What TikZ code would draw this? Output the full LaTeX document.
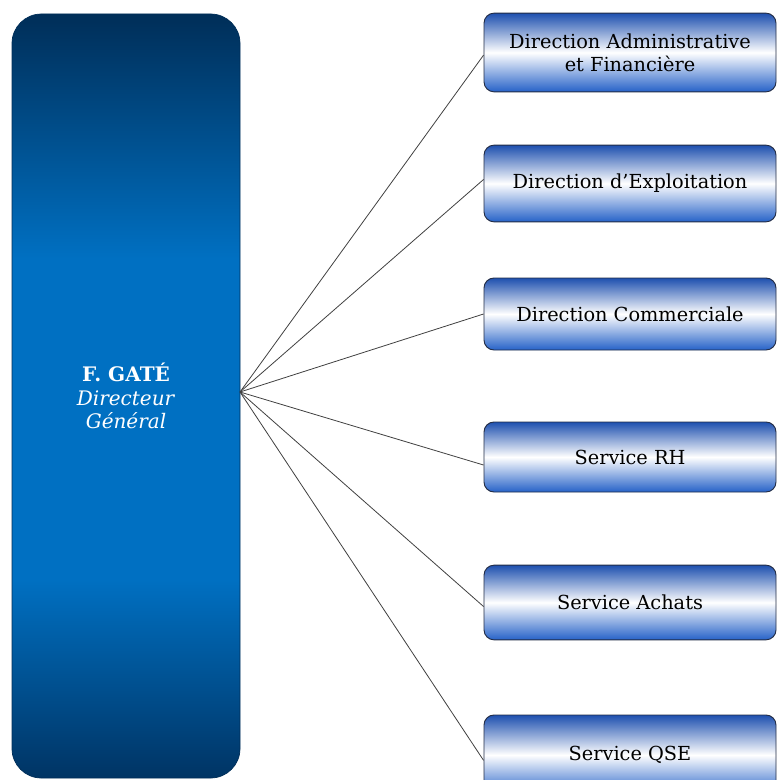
\documentclass[tikz,border=0pt]{standalone}
\usepackage{fontspec}
\setmainfont{DejaVu Serif}
\definecolor{bossdark}{RGB}{0,46,88}
\definecolor{bossdarkb}{RGB}{0,52,100}
\definecolor{bossblue}{RGB}{0,112,194}
\definecolor{boxblue}{RGB}{30,80,175}
\definecolor{boxblueb}{RGB}{38,98,200}
\definecolor{boxline}{RGB}{35,45,70}
\pgfdeclareverticalshading{bossshade}{100bp}{color(0bp)=(bossdarkb); color(25bp)=(bossdarkb); color(38bp)=(bossblue); color(59bp)=(bossblue); color(75bp)=(bossdark); color(100bp)=(bossdark)}
\tikzset{every picture/.style={line width=0.75pt}}
\tikzset{
	bossbox/.style={rectangle, rounded corners=22pt, shading=bossshade, draw=bossdark, line width=0.5pt,
		minimum width=171pt, minimum height=573pt, inner sep=0pt, align=center, text=white,
		font=\fontsize{15}{17.6}\selectfont},
	unitbox/.style={rectangle, rounded corners=7.5pt, top color=boxblue, bottom color=boxblueb, middle color=white,
		draw=boxline, line width=0.7pt, minimum width=219pt, inner sep=0pt, align=center,
		font=\fontsize{14.5}{17.3}\selectfont},
	spoke/.style={draw=black!75, line width=0.6pt}}
\begin{document}
\begin{tikzpicture}[x=0.75pt,y=0.75pt,yscale=-1,xscale=1]
	\useasboundingbox (0,0) rectangle (777,780);
	\clip (0,0) rectangle (777,780);

	%Shape: Rounded Rect [id:boss] 
	\node [bossbox] (boss) at (126,396) {\textbf{F. GATÉ}\\ \textit{Directeur}\\ \textit{Général}};
	\coordinate (hub) at (240,392);

	%Shape: Rounded Rect [id:daf] 
	\node [unitbox, minimum height=59pt] (daf) at (630,52.5) {Direction Administrative\\ et Financière};
	%Shape: Rounded Rect [id:dex] 
	\node [unitbox, minimum height=57.5pt] (dex) at (630,183.5) {Direction d’Exploitation};
	%Shape: Rounded Rect [id:dcom] 
	\node [unitbox, minimum height=54pt] (dcom) at (630,314) {Direction Commerciale};
	%Shape: Rounded Rect [id:srh] 
	\node [unitbox, minimum height=52.5pt] (srh) at (630,457) {Service RH};
	%Shape: Rounded Rect [id:sach] 
	\node [unitbox, minimum height=56pt] (sach) at (630,602.5) {Service Achats};
	%Shape: Rounded Rect [id:sqse] 
	\node [unitbox, minimum height=60pt] (sqse) at (630,755) {Service QSE};

	%Straight Lines 
	\draw [spoke] (hub) -- ([yshift=2pt]daf.west);
	\draw [spoke] (hub) -- ([yshift=-3pt]dex.west);
	\draw [spoke] (hub) -- (dcom.west);
	\draw [spoke] (hub) -- ([yshift=6pt]srh.west);
	\draw [spoke] (hub) -- ([yshift=3pt]sach.west);
	\draw [spoke] (hub) -- ([yshift=4pt]sqse.west);

\end{tikzpicture}
\end{document}
